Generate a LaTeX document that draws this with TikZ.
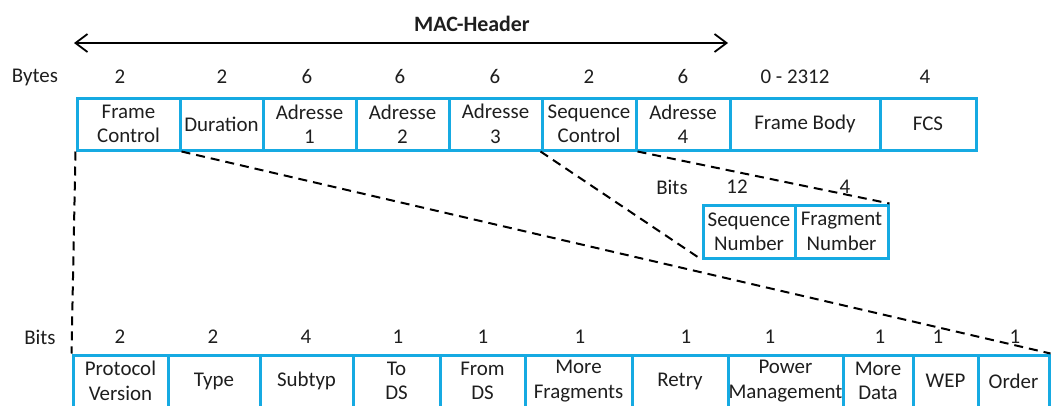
\documentclass[tikz,border=0pt]{standalone}
\usepackage{fontspec}
\setmainfont{Carlito}
\usetikzlibrary{arrows.meta}
\definecolor{fieldblue}{RGB}{22,170,226}
\definecolor{textgray}{RGB}{30,30,30}

\begin{document}
\begin{tikzpicture}[
    x=1bp, y=-1bp,
    every node/.style={font=\fontsize{21}{24.5}\selectfont, inner sep=0pt, text=textgray},
    field/.style={draw=fieldblue, line width=3bp, align=center, minimum height=52bp},
    dashlink/.style={draw, dash pattern=on 9bp off 6bp, line width=2bp}
]
\clip (0,0) rectangle (1051,405);

% MAC header arrow
\node[font=\fontsize{22}{26}\selectfont\bfseries] (machead) at (472, 24) {MAC-Header};
\coordinate (macl) at (74, 43);
\coordinate (macr) at (728, 43);
\draw[{Straight Barb[length=12bp, width=18bp]}-{Straight Barb[length=12bp, width=18bp]}, line width=1.8bp] (macl) -- (macr);

% Frame fields
\node (bytes) at (35, 77) {Bytes};
\node[field, minimum width=103bp] (fc)   at (128.5, 124) {Frame\\Control};
\node[field, minimum width=83bp]  (dur)  at (221.5, 124) {Duration};
\node[field, minimum width=93bp]  (a1)   at (309.5, 124) {Adresse\\1};
\node[field, minimum width=93bp]  (a2)   at (402.5, 124) {Adresse\\2};
\node[field, minimum width=93bp]  (a3)   at (495.5, 124) {Adresse\\3};
\node[field, minimum width=94bp]  (sc)   at (589, 124)   {Sequence\\Control};
\node[field, minimum width=94bp]  (a4)   at (683, 124)   {Adresse\\4};
\node[field, minimum width=150bp] (body) at (805, 124)   {Frame Body};
\node[field, minimum width=96bp]  (fcs)  at (928, 124)   {FCS};

\node (nfc)   at (120, 77) {2};
\node (ndur)  at (222, 77) {2};
\node (na1)   at (307, 77) {6};
\node (na2)   at (400, 77) {6};
\node (na3)   at (495, 77) {6};
\node (nsc)   at (589, 77) {2};
\node (na4)   at (683, 77) {6};
\node (nbody) at (795, 77) {0 - 2312};
\node (nfcs)  at (925, 77) {4};

% Sequence control fields
\node (scbits) at (672, 187) {Bits};
\node (nseq)   at (737, 187) {12};
\node (nfrag)  at (845, 187) {4};
\node[field, minimum width=92bp, minimum height=53bp] (seqnum)  at (749, 231.5)   {Sequence\\Number};
\node[field, minimum width=93bp, minimum height=53bp] (fragnum) at (841.5, 231.5) {Fragment\\Number};

% Frame control fields
\node (fcbits) at (40, 337) {Bits};
\node[field, minimum width=95bp]  (pv)       at (120.5, 381)  {Protocol\\Version};
\node[field, minimum width=92bp]  (type)     at (214, 381)    {Type};
\node[field, minimum width=93bp]  (subtyp)   at (306.5, 381)  {Subtyp};
\node[field, minimum width=87bp]  (tods)     at (396.5, 381)  {To\\DS};
\node[field, minimum width=85bp]  (fromds)   at (482.5, 381)  {From\\DS};
\node[field, minimum width=107bp] (morefrag) at (578.5, 381)  {More\\Fragments};
\node[field, minimum width=96bp]  (retry)    at (680, 381)    {Retry};
\node[field, minimum width=115bp] (pm)       at (785.5, 381)  {Power\\Management};
\node[field, minimum width=70bp]  (moredata) at (878, 381)    {More\\Data};
\node[field, minimum width=65bp]  (wep)      at (945.5, 381)  {WEP};
\node[field, minimum width=71bp]  (order)    at (1013.5, 381) {Order};

\node (npv)       at (120, 337)  {2};
\node (ntype)     at (213, 337)  {2};
\node (nsubtyp)   at (306, 337)  {4};
\node (ntods)     at (398, 337)  {1};
\node (nfromds)   at (483, 337)  {1};
\node (nmorefrag) at (580, 337)  {1};
\node (nretry)    at (686, 337)  {1};
\node (npm)       at (770, 337)  {1};
\node (nmoredata) at (880, 337)  {1};
\node (nwep)      at (938, 337)  {1};
\node (norder)    at (1015, 337) {1};

% Zoom lines
\draw[dashlink] (fc.south west) -- (pv.north west);
\draw[dashlink] (fc.south east) -- (order.north east);
\draw[dashlink] (sc.south west) -- (seqnum.south west);
\draw[dashlink] (sc.south east) -- (fragnum.north east);

\end{tikzpicture}
\end{document}
